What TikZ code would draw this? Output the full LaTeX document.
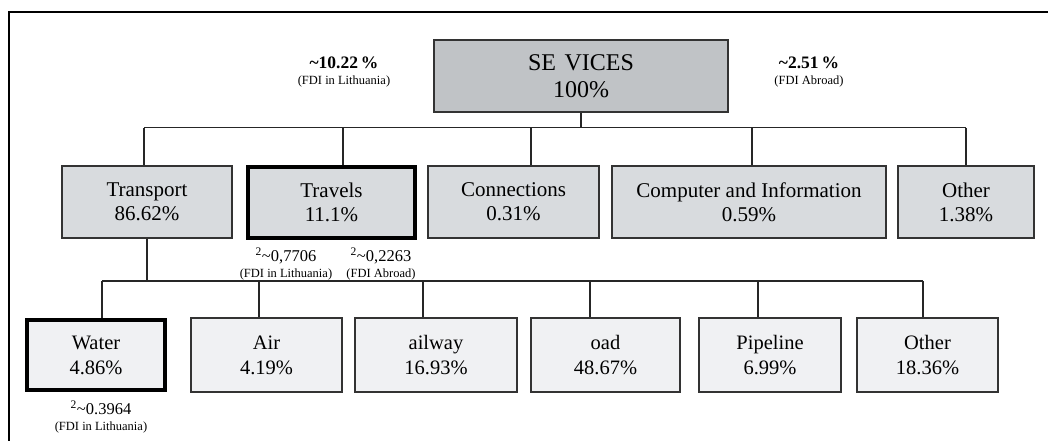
\documentclass[tikz,border=0pt]{standalone}
\usepackage{fontspec}
\setmainfont{Liberation Serif}
\usepackage{xcolor}
\usepackage{tikz}
\usetikzlibrary{positioning, calc}
\definecolor{topgray}{HTML}{C0C3C6}
\definecolor{catgray}{HTML}{D8DBDE}
\definecolor{subgray}{HTML}{F0F1F3}
\tikzset{
  topbox/.style={rectangle, draw=black!80, fill=topgray, line width=1.5pt,
                 inner sep=0pt, minimum height=72pt, align=center,
                 font=\fontsize{24}{27}\selectfont},
  catbox/.style={rectangle, draw=black!80, fill=catgray, line width=1.5pt,
                 inner sep=0pt, minimum height=72pt, align=center,
                 font=\fontsize{21}{24}\selectfont},
  subbox/.style={rectangle, draw=black!80, fill=subgray, line width=1.5pt,
                 inner sep=0pt, minimum height=74pt, align=center,
                 font=\fontsize{20.5}{25}\selectfont},
  keybox/.style={draw=black, line width=4pt},
  link/.style={draw=black!85, line width=1.5pt},
  share/.style={align=center, inner sep=0pt, font=\fontsize{12.5}{16}\selectfont}
}
\newcommand{\bigshare}[1]{{\bfseries\fontsize{17.5}{16}\selectfont\textasciitilde#1\,\%}}
\newcommand{\subshare}[1]{{\fontsize{16.5}{16}\selectfont\textsuperscript{2}\textasciitilde#1}}

\begin{document}
\begin{tikzpicture}[x=1pt, y=-1pt]
    \useasboundingbox (0,0) rectangle (1048,441);
    \draw[line width=1.5pt] (1048,12) -- (9,12) -- (9,441);

    % top level
    \node[topbox, minimum width=294pt] (serv) at (581,76) {SE\hspace{0.35em}VICES\\100\%};
    \node[share] (fdiIn) at (344,72) {\bigshare{10.22}\\(FDI in Lithuania)};
    \node[share] (fdiOut) at (809,72) {\bigshare{2.51}\\(FDI Abroad)};

    % service groups
    \node[catbox, minimum width=170pt] (trans) at (147,202) {Transport\\86.62\%};
    \node[catbox, keybox, minimum width=167pt, minimum height=71pt] (trav) at (331.5,202.5) {Travels\\11.1\%};
    \node[catbox, minimum width=171pt] (conn) at (513.5,202) {Connections\\0.31\%};
    \node[catbox, minimum width=274pt] (comp) at (749,202) {Computer and Information\\0.59\%};
    \node[catbox, minimum width=136pt] (othA) at (966,202) {Other\\1.38\%};

    \node[share] (travIn) at (286,264) {\subshare{0,7706}\\(FDI in Lithuania)};
    \node[share] (travOut) at (381,264) {\subshare{0,2263}\\(FDI Abroad)};

    % transport kinds
    \node[subbox, keybox, minimum width=138pt, minimum height=70pt] (water) at (96,355) {Water\\4.86\%};
    \node[subbox, minimum width=151pt] (air) at (266.5,355) {Air\\4.19\%};
    \node[subbox, minimum width=162pt] (rail) at (436,355) {ailway\\16.93\%};
    \node[subbox, minimum width=149pt] (road) at (605.5,355) {oad\\48.67\%};
    \node[subbox, minimum width=142pt] (pipe) at (770,355) {Pipeline\\6.99\%};
    \node[subbox, minimum width=141pt] (othB) at (927.5,355) {Other\\18.36\%};

    \node[share] (waterIn) at (101,417) {\subshare{0.3964}\\(FDI in Lithuania)};

    % joints on the two buses
    \coordinate (jTrans) at (144,127.5);
    \coordinate (jTrav) at (343,127.5);
    \coordinate (jConn) at (531,127.5);
    \coordinate (jComp) at (752,127.5);
    \coordinate (jOthA) at (966,127.5);
    \coordinate (jWater) at (102,281);
    \coordinate (jAir) at (259,281);
    \coordinate (jRail) at (423,281);
    \coordinate (jRoad) at (590,281);
    \coordinate (jPipe) at (758,281);
    \coordinate (jOthB) at (923,281);

    \draw[link] (serv.south) -- (serv.south |- jTrans);
    \draw[link] (jTrans) -- (jOthA);
    \foreach \j/\b in {jTrans/trans, jTrav/trav, jConn/conn, jComp/comp, jOthA/othA}
      \draw[link] (\j) -- (\j |- \b.north);
    \draw[link] (trans.south) -- (trans.south |- jWater);
    \draw[link] (jWater) -- (jOthB);
    \foreach \j/\b in {jWater/water, jAir/air, jRail/rail, jRoad/road, jPipe/pipe, jOthB/othB}
      \draw[link] (\j) -- (\j |- \b.north);
  \end{tikzpicture}
\end{document}
